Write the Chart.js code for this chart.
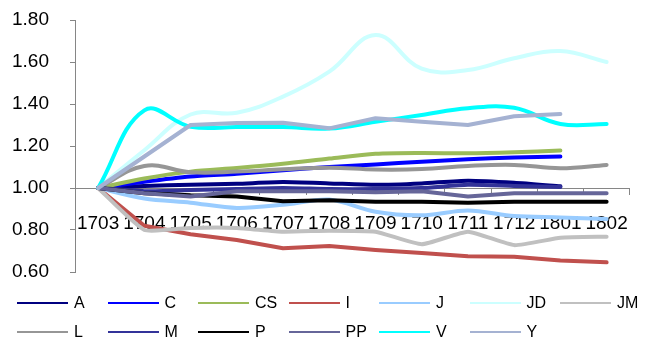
<!DOCTYPE html>
<html>
<head>
<meta charset="utf-8">
<script src="https://cdn.jsdelivr.net/npm/chart.js@4.4.1/dist/chart.umd.min.js"></script>
<style>
  html, body { margin: 0; padding: 0; background: #ffffff; }
  #wrap { position: relative; width: 646px; height: 345px; overflow: hidden; }
  #chart { position: absolute; left: 0; top: 0; }
  .lg-item { position: absolute; height: 20px; font-family: "Liberation Sans", Arial, sans-serif; font-size: 16px; color: #000; line-height: 20px; white-space: nowrap; }
  .lg-line { position: absolute; left: 0; top: 9px; width: 51px; height: 2px; }
  .lg-text { position: absolute; left: 57px; top: 0; }
</style>
</head>
<body>
<div id="wrap">
  <canvas id="chart" width="646" height="345"></canvas>
  <div id="legend"></div>
</div>
<script>
// Periods on the category axis
const categories = ['1703', '1704', '1705', '1706', '1707', '1708', '1709', '1710', '1711', '1712', '1801', '1802'];

// Value-axis tick labels
const yTickValues = [0.60, 0.80, 1.00, 1.20, 1.40, 1.60, 1.80];

// Indexed series (base period = 1.00)
const seriesA  = [1.00, 1.010, 1.015, 1.020, 1.028, 1.022, 1.015, 1.022, 1.035, 1.025, 1.008];
const seriesC  = [1.00, 1.030, 1.055, 1.068, 1.085, 1.100, 1.112, 1.125, 1.137, 1.145, 1.150];
const seriesCS = [1.00, 1.045, 1.078, 1.095, 1.115, 1.140, 1.163, 1.167, 1.165, 1.170, 1.178];
const seriesI  = [1.00, 0.820, 0.780, 0.752, 0.713, 0.724, 0.705, 0.690, 0.675, 0.673, 0.655, 0.646];
const seriesJ  = [1.00, 0.950, 0.930, 0.905, 0.920, 0.945, 0.887, 0.870, 0.893, 0.867, 0.860, 0.852];
const seriesJD = [1.00, 1.180, 1.350, 1.358, 1.435, 1.554, 1.728, 1.568, 1.562, 1.618, 1.652, 1.600];
const seriesJM = [1.00, 0.800, 0.810, 0.810, 0.792, 0.797, 0.792, 0.732, 0.792, 0.728, 0.763, 0.768];
const seriesL  = [1.00, 1.105, 1.075, 1.078, 1.089, 1.097, 1.088, 1.090, 1.105, 1.110, 1.094, 1.110];
const seriesM  = [1.00, 0.985, 0.990, 0.995, 1.000, 0.995, 0.995, 1.000, 1.015, 1.010, 1.005];
const seriesP  = [1.00, 0.975, 0.965, 0.960, 0.937, 0.942, 0.935, 0.935, 0.930, 0.935, 0.935, 0.935];
const seriesPP = [1.00, 0.975, 0.960, 0.985, 0.985, 0.985, 0.980, 0.985, 0.960, 0.975, 0.975, 0.975];
const seriesV  = [1.00, 1.370, 1.292, 1.290, 1.290, 1.283, 1.315, 1.348, 1.380, 1.382, 1.305, 1.305];
const seriesY  = [1.00, 1.150, 1.300, 1.310, 1.311, 1.284, 1.332, 1.316, 1.300, 1.342, 1.352];

const seriesNames = ['A', 'C', 'CS', 'I', 'J', 'JD', 'JM', 'L', 'M', 'P', 'PP', 'V', 'Y'];
const seriesData = [seriesA, seriesC, seriesCS, seriesI, seriesJ, seriesJD, seriesJM,
                    seriesL, seriesM, seriesP, seriesPP, seriesV, seriesY];

// Line styling per series
const seriesStyle = {
  A:  { color: '#000080', tension: 0.2 },
  C:  { color: '#0000FF', tension: 0.2 },
  CS: { color: '#9BBB59', tension: 0.3 },
  I:  { color: '#C0504D', tension: 0 },
  J:  { color: '#99CCFF', tension: 0.3 },
  JD: { color: '#CCFFFF', tension: 0.4 },
  JM: { color: '#C0C0C0', tension: 0.15 },
  L:  { color: '#969696', tension: 0.4 },
  M:  { color: '#333399', tension: 0.2 },
  P:  { color: '#000000', tension: 0 },
  PP: { color: '#666699', tension: 0 },
  V:  { color: '#00FFFF', tension: 0.4 },
  Y:  { color: '#A5B2D2', tension: 0 }
};

const axisGray = '#868686';
const fontFamily = '"Liberation Sans", Arial, sans-serif';

const datasets = seriesNames.map((name, i) => ({
  label: name,
  data: seriesData[i],
  borderColor: seriesStyle[name].color,
  backgroundColor: seriesStyle[name].color,
  borderWidth: 4,
  borderCapStyle: 'round',
  borderJoinStyle: 'round',
  tension: seriesStyle[name].tension,
  pointRadius: 0,
  pointHoverRadius: 0,
  fill: false,
  spanGaps: false,
  // later series are painted over earlier ones
  order: seriesNames.length - i
}));

new Chart(document.getElementById('chart'), {
  type: 'line',
  data: { labels: categories, datasets: datasets },
  options: {
    responsive: false,
    animation: false,
    devicePixelRatio: 1,
    layout: { padding: { left: 0, right: 6, top: 20, bottom: 73 } },
    plugins: {
      legend: { display: false },
      tooltip: { enabled: false }
    },
    scales: {
      x: {
        type: 'category',
        offset: true,
        position: { y: 1.0 },
        grid: {
          display: true,
          drawOnChartArea: false,
          drawTicks: true,
          tickLength: 6,
          color: axisGray,
          offset: true
        },
        border: { display: true, color: axisGray, width: 1 },
        ticks: {
          autoSkip: false,
          maxRotation: 0,
          minRotation: 0,
          padding: 18,
          color: '#000000',
          font: { family: fontFamily, size: 19 }
        }
      },
      y: {
        type: 'linear',
        position: 'left',
        min: 0.6,
        max: 1.8,
        afterBuildTicks: (scale) => {
          scale.ticks = yTickValues.map(v => ({ value: v }));
        },
        afterFit: (scale) => {
          scale.width = 75;
          // the layout padding already leaves room for the end labels
          scale.paddingTop = 0;
          scale.paddingBottom = 0;
        },
        grid: {
          display: true,
          drawOnChartArea: false,
          drawTicks: true,
          tickLength: 5,
          color: axisGray
        },
        border: { display: true, color: axisGray, width: 1 },
        ticks: {
          padding: 21,
          color: '#000000',
          font: { family: fontFamily, size: 19 },
          callback: (v) => Number(v).toFixed(2)
        }
      }
    }
  }
});

// Two-row legend with evenly spaced columns
const legendEl = document.getElementById('legend');
seriesNames.forEach((name, i) => {
  const row = i < 7 ? 0 : 1;
  const col = row === 0 ? i : i - 7;
  const item = document.createElement('div');
  item.className = 'lg-item';
  item.style.left = (17 + col * 90.5) + 'px';
  item.style.top = (row === 0 ? 293 : 322) + 'px';
  const line = document.createElement('div');
  line.className = 'lg-line';
  line.style.background = seriesStyle[name].color;
  const text = document.createElement('span');
  text.className = 'lg-text';
  text.textContent = name;
  item.appendChild(line);
  item.appendChild(text);
  legendEl.appendChild(item);
});
</script>
</body>
</html>
